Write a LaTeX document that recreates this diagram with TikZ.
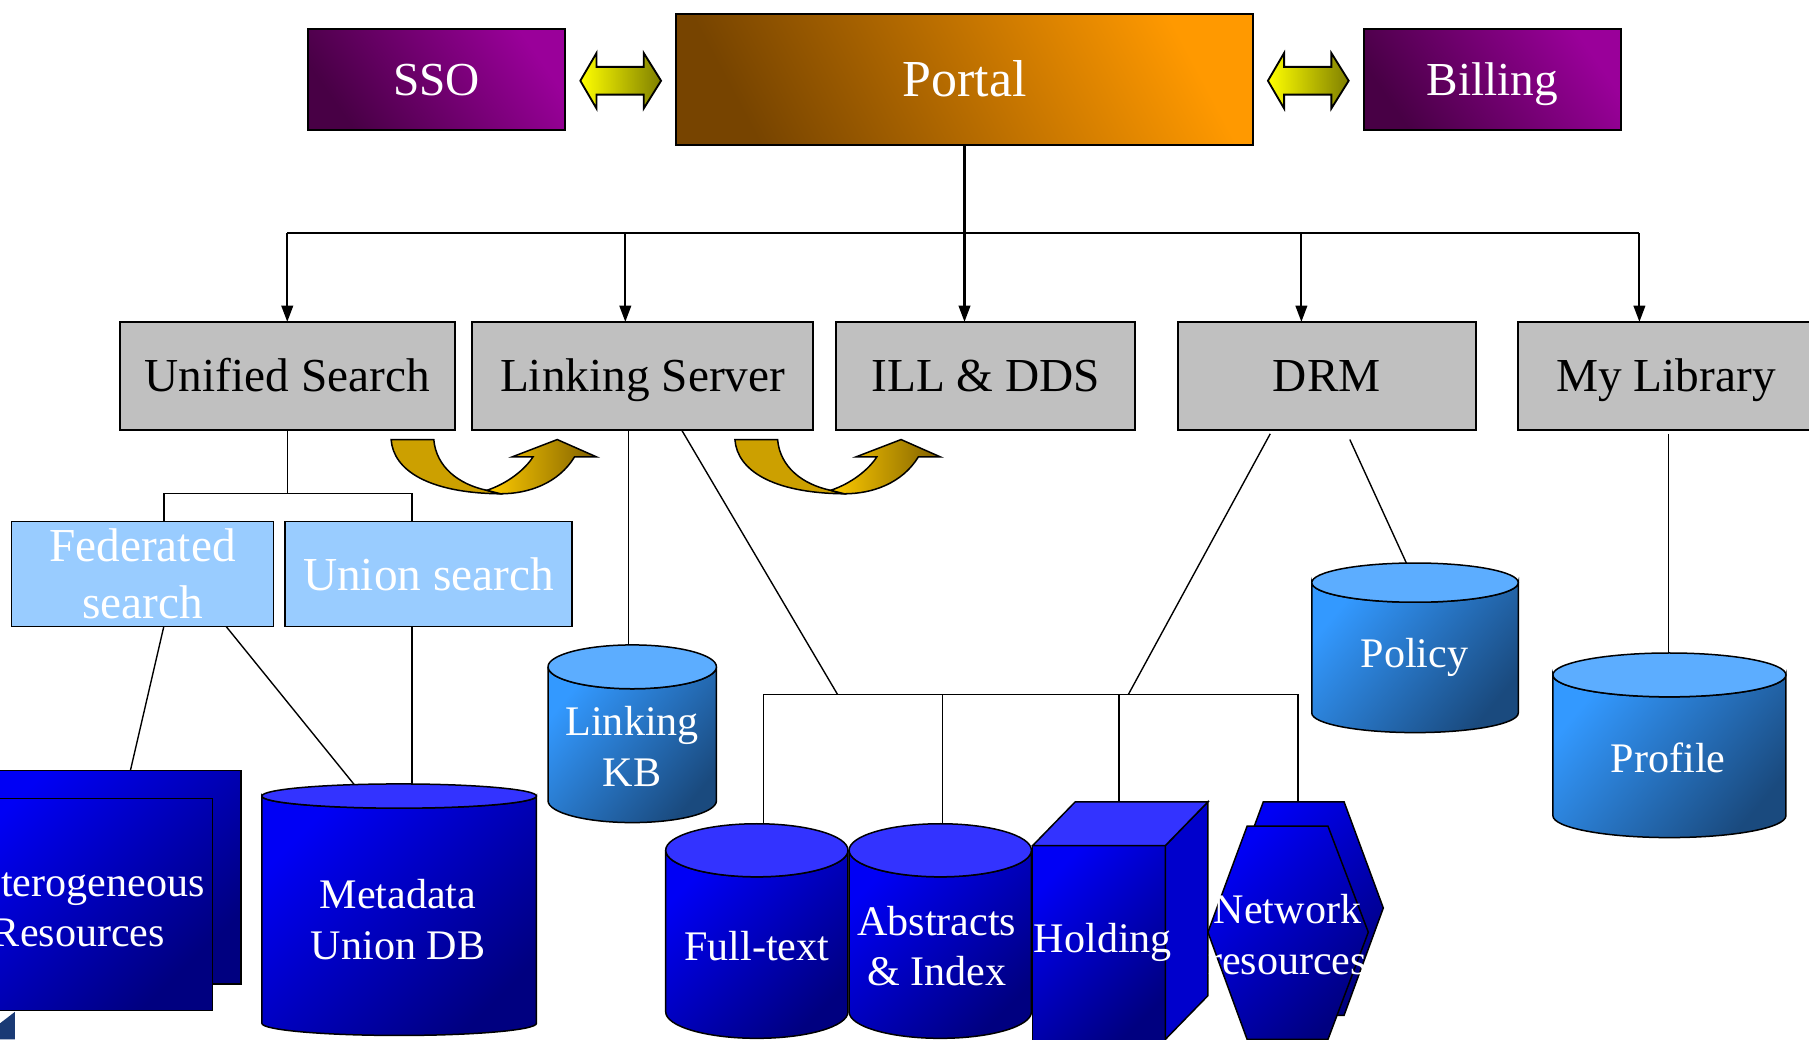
\documentclass[tikz,border=0pt]{standalone}
\usepackage{fontspec}
\setmainfont{Liberation Serif}
\usetikzlibrary{arrows.meta}
\definecolor{portalL}{HTML}{774400}
\definecolor{portalR}{HTML}{FF9900}
\definecolor{purD}{HTML}{480045}
\definecolor{purL}{HTML}{9A009A}
\definecolor{greyF}{HTML}{C0C0C0}
\definecolor{skyF}{HTML}{99CCFF}
\definecolor{dA}{HTML}{0000F5}
\definecolor{dB}{HTML}{000080}
\definecolor{dTop}{HTML}{3333FF}
\definecolor{dSide}{HTML}{0000CC}
\definecolor{lA}{HTML}{3399FF}
\definecolor{lB}{HTML}{1A4A7E}
\definecolor{lTop}{HTML}{5CADFF}
\definecolor{yA}{HTML}{FFFF00}
\definecolor{yB}{HTML}{7F7F00}
\definecolor{gFlat}{HTML}{CCA000}
\definecolor{gA}{HTML}{FFCC00}
\definecolor{gB}{HTML}{806000}
\definecolor{fragC}{HTML}{1A3A75}
% cylinder: cx, rx, y of top ellipse centre, ry, y of bottom ellipse centre, body style, top colour
\newcommand\mycyl[7]{%
  \path[#6,shapeline] ({#1-#2},#3) -- ({#1-#2},#5)
    arc[start angle=180,end angle=0,x radius=#2,y radius=#4]
    -- ({#1+#2},#3)
    arc[start angle=0,end angle=180,x radius=#2,y radius=#4] -- cycle;
  \path[fill=#7,shapeline] (#1,#3) ellipse [x radius=#2,y radius=#4];
}
\begin{document}
\begin{tikzpicture}[x=1pt,y=-1pt,
  boxbase/.style={draw=black,line width=1.8pt,inner sep=0pt,outer sep=0pt,anchor=north west,align=center},
  oneline/.style={text height=33pt,text depth=6pt},
  purbox/.style={boxbase,oneline,top color=purL,bottom color=purD,shading angle=-55,text=white,font=\fontsize{41}{49}\selectfont},
  portalbox/.style={boxbase,text height=36pt,text depth=6pt,top color=portalR,bottom color=portalL,shading angle=-62,text=white,font=\fontsize{45}{52}\selectfont},
  greybox/.style={boxbase,oneline,fill=greyF,text=black,font=\fontsize{41}{49}\selectfont},
  skybox/.style={boxbase,line width=1.5pt,fill=skyF,text=white,font=\fontsize{41}{49}\selectfont},
  lowlbl/.style={text=white,align=center,inner sep=0pt,font=\fontsize{36.5}{44}\selectfont},
  conn/.style={draw=black,line width=1.2pt},
  busline/.style={draw=black,line width=1.8pt},
  arr/.style={busline,-{Triangle[length=14pt,width=10pt]}},
  darkshade/.style={top color=dA,bottom color=dB,shading angle=45},
  liteshade/.style={top color=lA,bottom color=lB,shading angle=50},
  shapeline/.style={draw=black,line width=1.3pt},
  dblarrow/.style={draw=black,line width=1.6pt,left color=yA,right color=yB},
]
\useasboundingbox (0,0) rectangle (1568,901);
\clip (0,0) rectangle (1568,901);

% ---------- top row ----------
\node[portalbox,minimum width=500pt,minimum height=114pt] (portal) at (586,12) {Portal};
\node[purbox,minimum width=223pt,minimum height=88pt] (sso) at (267,25) {SSO};
\node[purbox,minimum width=223pt,minimum height=88pt] (bill) at (1182,25) {Billing};
\foreach \o in {0,596}{
  \path[dblarrow,shift={(\o,0)}] (503,70) -- (517,46) -- (517,58) -- (558,58) -- (558,46)
    -- (573,70) -- (558,94) -- (558,82) -- (517,82) -- (517,94) -- cycle;
}

% ---------- second row ----------
\node[greybox,minimum width=290pt,minimum height=94pt] (us) at (104,279) {Unified Search};
\node[greybox,minimum width=296pt,minimum height=94pt] (ls) at (409,279) {Linking Server};
\node[greybox,minimum width=259pt,minimum height=94pt] (ill) at (725,279) {ILL \& DDS};
\node[greybox,minimum width=258pt,minimum height=94pt] (drm) at (1021,279) {DRM};
\node[greybox,minimum width=256pt,minimum height=94pt] (ml) at (1316,279) {My Library};

% bus
\coordinate (busL) at (249,202);
\coordinate (b2) at (542,202);
\coordinate (b3) at (836,202);
\coordinate (b4) at (1128,202);
\coordinate (busR) at (1421,202);
\draw[busline] (portal.south) -- (b3);
\draw[busline] (busL) -- (busR);
\draw[arr] (busL) -- (busL |- us.north);
\draw[arr] (b2) -- (b2 |- ls.north);
\draw[arr] (b3) -- (b3 |- ill.north);
\draw[arr] (b4) -- (b4 |- drm.north);
\draw[arr] (busR) -- (busR |- ml.north);

% curved gold arrows
\foreach \o in {0,298}{
  \begin{scope}[shift={(\o,0)}]
    \path[shapeline,fill=gFlat] (339,381) -- (376,381)
      .. controls (378,405) and (398,420) .. (422,425)
      -- (432,428)
      .. controls (372,427) and (341,408) .. (339,381) -- cycle;
    \path[shapeline,left color=gA,right color=gB] (422,425)
      .. controls (440,419) and (455,407) .. (462,396)
      -- (444,396) -- (483,381) -- (517,396) -- (498,396)
      .. controls (484,419) and (458,428) .. (434,428) -- cycle;
  \end{scope}
}

% ---------- search sub-boxes ----------
\node[skybox,minimum width=227pt,minimum height=91pt] (fed) at (10,452) {Federated\\search};
\node[skybox,minimum width=249pt,minimum height=91pt] (uni) at (247,452) {Union search};
\coordinate (fj) at (142,428);
\coordinate (uj) at (357,428);
\draw[conn] (us.south) -- (us.south |- fj);
\draw[conn] (fed.north -| fj) -- (fj) -- (uj) -- (uni.north -| uj);

% ---------- heterogeneous resources ----------
\path[darkshade,shapeline] (-23,668) rectangle (209,853);
\path[darkshade,shapeline] (-48,692) rectangle (184,876);
\node[lowlbl] (het) at (68,787) {Heterogeneous\\Resources};
\fill[fragC] (0,887) -- (13,877) -- (13,901) -- (0,901) -- cycle;

% ---------- metadata union db ----------
\mycyl{346}{119}{690}{10.5}{887}{darkshade}{dTop}
\node[lowlbl] (mdb) at (345,797) {Metadata\\Union DB};

\coordinate (hetT) at (113,668);
\coordinate (mdbT) at (307,680);
\coordinate (mdbU) at (357,680);
\coordinate (fedB) at (196,543);
\draw[conn] (fed.south -| fj) -- (hetT);
\draw[conn] (fedB) -- (mdbT);
\draw[conn] (uni.south -| uj) -- (mdbU);

% ---------- linking KB ----------
\mycyl{548}{73}{578}{19}{694}{liteshade}{lTop}
\node[lowlbl] (lkb) at (548,647) {Linking\\KB};
\coordinate (lkbT) at (545,559);
\draw[conn] (ls.south -| lkbT) -- (lkbT);

% ---------- policy / profile ----------
\mycyl{1226.5}{89.5}{505}{17}{618}{liteshade}{lTop}
\node[lowlbl] (pol) at (1226,570) {Policy};
\mycyl{1447}{101}{585}{19}{707}{liteshade}{lTop}
\node[lowlbl] (prof) at (1446,657) {Profile};
\coordinate (drmA) at (1170,381);
\coordinate (polT) at (1219,488);
\draw[conn] (drmA) -- (polT);
\coordinate (mlA) at (1446,376);
\coordinate (profT) at (1446,566);
\draw[conn] (mlA) -- (profT);

% ---------- content resources ----------
\mycyl{656}{79}{737}{23}{877}{darkshade}{dTop}
\node[lowlbl] (ft) at (656,820) {Full-text};
\mycyl{815}{79}{737}{23}{877}{darkshade}{dTop}
\node[lowlbl] (ai) at (812,820) {Abstracts\\\& Index};

% holding box
\path[darkshade,shapeline] (895,733) rectangle (1010,906);
\path[fill=dSide,shapeline] (1010,733) -- (1047,695) -- (1047,863) -- (1010,901) -- cycle;
\path[fill=dTop,shapeline] (895,733) -- (932,695) -- (1047,695) -- (1010,733) -- cycle;
\node[lowlbl] (hold) at (956,817) {Holding};

% network resources
\path[darkshade,shapeline] (1095,695) -- (1165,695) -- (1199,787) -- (1165,880) -- (1095,880) -- (1061,787) -- cycle;
\path[darkshade,shapeline] (1081,716) -- (1151,716) -- (1186,808) -- (1151,901) -- (1081,901) -- (1047,808) -- cycle;
\node[lowlbl] (net) at (1116,810) {Network\\resources};

% distribution bar
\coordinate (lsA) at (591,373);
\coordinate (drmB) at (1101,376);
\coordinate (barA) at (726,602);
\coordinate (barB) at (978,602);
\coordinate (ftT) at (662,714);
\coordinate (aiT) at (817,714);
\coordinate (holdT) at (970,695);
\coordinate (netT) at (1125,695);
\draw[conn] (lsA) -- (barA);
\draw[conn] (drmB) -- (barB);
\draw[conn] (ftT) |- (netT |- barA) -- (netT);
\draw[conn] (aiT) -- (aiT |- barA);
\draw[conn] (holdT) -- (holdT |- barA);
\end{tikzpicture}
\end{document}
